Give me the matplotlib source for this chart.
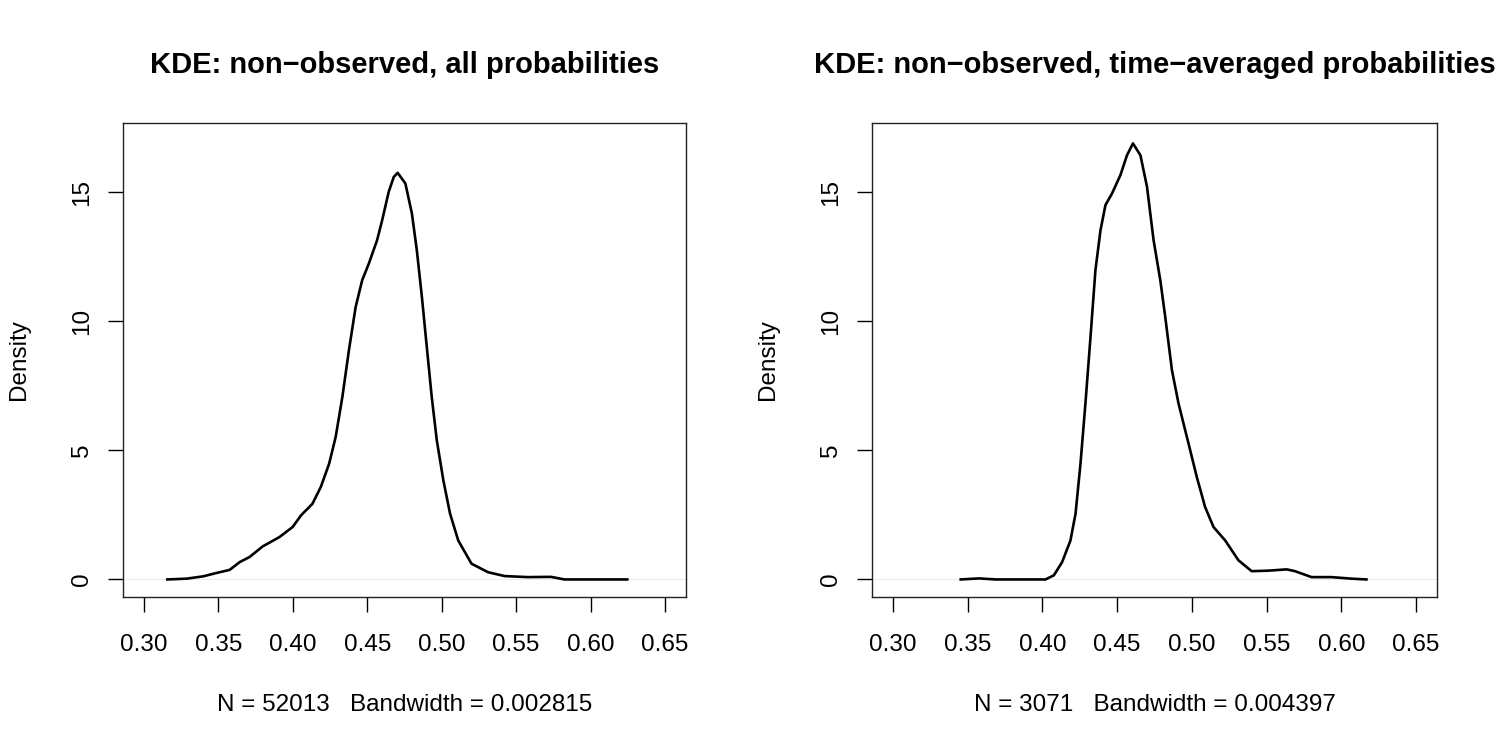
import matplotlib
matplotlib.use("Agg")
import matplotlib.pyplot as plt

plt.rcParams['font.family'] = ['Liberation Sans', 'DejaVu Sans']

# left panel: all probabilities
x_all = [0.3158, 0.3287, 0.3398, 0.3487, 0.3576, 0.3643, 0.3710, 0.3798, 0.3910,
         0.3999, 0.4055, 0.4132, 0.4188, 0.4244, 0.4288, 0.4333, 0.4377, 0.4422,
         0.4466, 0.4511, 0.4566, 0.4600, 0.4644, 0.4678, 0.4704, 0.4756, 0.4800,
         0.4833, 0.4867, 0.4900, 0.4933, 0.4967, 0.5011, 0.5056, 0.5111, 0.5200,
         0.5311, 0.5423, 0.5579, 0.5734, 0.5824, 0.6246]
y_all = [0.00, 0.03, 0.12, 0.25, 0.37, 0.67, 0.87, 1.28, 1.64,
         2.03, 2.48, 2.93, 3.58, 4.48, 5.52, 7.07, 8.88, 10.55,
         11.59, 12.24, 13.14, 13.91, 15.01, 15.59, 15.75, 15.34, 14.17,
         12.75, 10.94, 9.00, 7.07, 5.39, 3.84, 2.55, 1.51, 0.61,
         0.28, 0.13, 0.09, 0.10, 0.00, 0.00]

# right panel: time-averaged probabilities
x_avg = [0.3454, 0.3576, 0.3688, 0.4021, 0.4077, 0.4132, 0.4188, 0.4222, 0.4255,
         0.4288, 0.4322, 0.4355, 0.4389, 0.4422, 0.4466, 0.4522, 0.4566, 0.4606,
         0.4656, 0.4700, 0.4744, 0.4789, 0.4822, 0.4867, 0.4911, 0.4978, 0.5033,
         0.5089, 0.5145, 0.5223, 0.5312, 0.5400, 0.5512, 0.5634, 0.5690, 0.5801,
         0.5934, 0.6068, 0.6168]
y_avg = [0.00, 0.04, 0.00, 0.00, 0.16, 0.67, 1.51, 2.55, 4.48,
         6.81, 9.39, 11.98, 13.53, 14.50, 14.95, 15.66, 16.43, 16.89,
         16.43, 15.21, 13.14, 11.59, 10.17, 8.10, 6.81, 5.26, 3.97,
         2.80, 2.03, 1.51, 0.74, 0.32, 0.34, 0.39, 0.32, 0.09,
         0.09, 0.03, 0.00]

titles = ["KDE: non\u2212observed, all probabilities",
          "KDE: non\u2212observed, time\u2212averaged probabilities"]
subs = ["N = 52013   Bandwidth = 0.002815",
        "N = 3071   Bandwidth = 0.004397"]
xticks = [0.30, 0.35, 0.40, 0.45, 0.50, 0.55, 0.60, 0.65]
yticks = [0, 5, 10, 15]

fig = plt.figure(figsize=(15, 7.5), dpi=100)
ax1 = fig.add_axes([0.082, 0.204, 0.3753, 0.632])
ax2 = fig.add_axes([0.5813, 0.204, 0.3767, 0.632])

for ax, xs, ys, t, s in [(ax1, x_all, y_all, titles[0], subs[0]),
                         (ax2, x_avg, y_avg, titles[1], subs[1])]:
    ax.axhline(0, color='#e6e6e6', lw=0.6, zorder=1)
    ax.plot(xs, ys, color='black', lw=1.9, solid_joinstyle='round', zorder=2)
    ax.set_xlim(0.3 - 0.014, 0.65 + 0.014)
    ax.set_ylim(-0.68, 17.68)
    ax.set_xticks(xticks)
    ax.set_xticklabels(["%.2f" % v for v in xticks], fontsize=17.5)
    ax.set_yticks(yticks)
    ax.set_yticklabels([str(v) for v in yticks], fontsize=17.5, rotation=90, va='center')
    ax.tick_params(direction='out', length=10.8, width=1)
    ax.tick_params(axis='x', pad=15.5)
    ax.tick_params(axis='y', pad=11)
    for sp in ax.spines.values():
        sp.set_linewidth(1.0)
        sp.set_color('#222222')
    ax.set_title(t, fontsize=21, fontweight='bold', pad=36)
    ax.set_xlabel(s, fontsize=17.5, labelpad=28)
    ax.set_ylabel("Density", fontsize=17.5, labelpad=29)

fig.savefig("out.png", dpi=100, facecolor='white')
